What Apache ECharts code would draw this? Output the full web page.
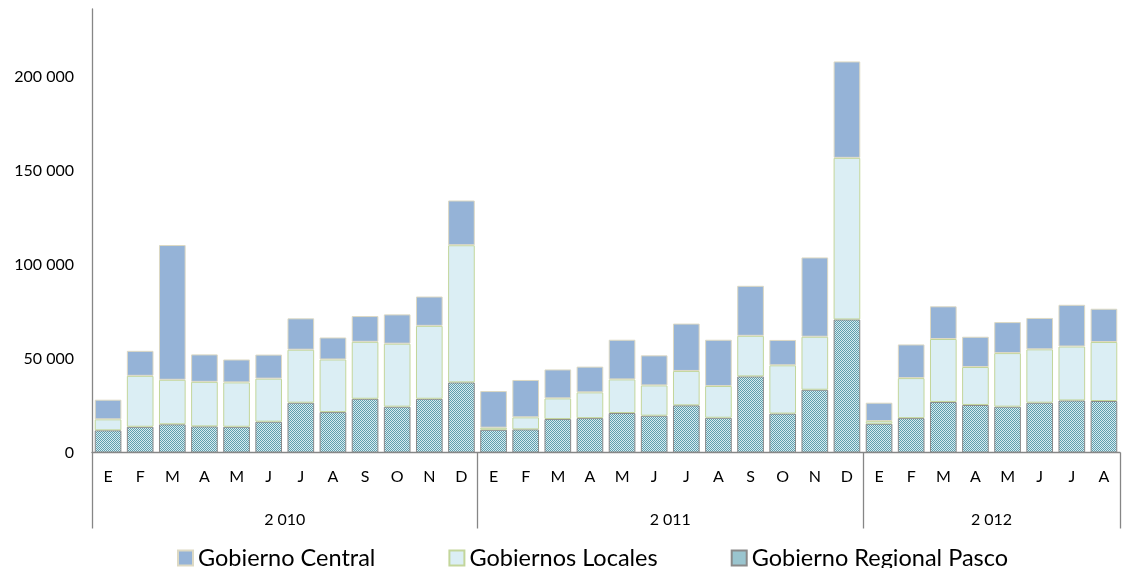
<!DOCTYPE html>
<html>
<head>
<meta charset="utf-8">
<script src="https://cdn.jsdelivr.net/npm/echarts@6/dist/echarts.min.js"></script>
<style>
html,body{margin:0;padding:0;background:#fff;}
#chart{width:1124px;height:568px;}
</style>
</head>
<body>
<div id="chart"></div>
<script>
const months = ['E','F','M','A','M','J','J','A','S','O','N','D','E','F','M','A','M','J','J','A','S','O','N','D','E','F','M','A','M','J','J','A'];
const yearLabels = ['2 010','2 011','2 012'];
const yearCenters = [6, 18, 28];
const yearBounds = [0, 12, 24, 32];
const yTicks = [0, 50000, 100000, 150000, 200000];

const regional = [11800,13700,15000,13900,13700,16400,26500,21500,28600,24400,28600,37300,
                  12100,12300,17800,18300,21000,19600,25100,18500,40500,20700,33400,70800,
                  15300,18300,26900,25300,24400,26500,27700,27400];
const locales  = [5850,27100,23700,23700,23600,22900,28200,28000,30300,33500,38800,73000,
                  1100,6400,11000,13700,17900,16100,18300,16900,21600,25700,28200,86000,
                  1400,21300,33500,20200,28500,28400,28700,31400];
const central  = [10450,13300,71700,14600,12200,12800,16700,11700,13700,15600,15600,23800,
                  19500,19900,15400,13700,21100,16000,25200,24600,26600,13500,42200,51300,
                  9800,17900,17400,16100,16500,16700,22200,17700];

function makePattern(){
  const c = document.createElement('canvas');
  c.width = 2; c.height = 2;
  const g = c.getContext('2d');
  g.fillStyle = '#d6ebf0'; g.fillRect(0,0,2,2);
  g.fillStyle = '#5f9fae'; g.fillRect(0,0,1,1); g.fillRect(1,1,1,1);
  return c;
}
const pat = makePattern();

const FONT = 'Lato';
const chart = echarts.init(document.getElementById('chart'), null, {renderer:'canvas'});
chart.setOption({
  animation: false,
  textStyle: {fontFamily: FONT},
  grid: {left: 92, right: 4, top: 9, bottom: 115.5, containLabel: false},
  legend: {
    left: 172, top: 541, itemGap: 73, itemWidth: 15, itemHeight: 15,
    icon: 'rect',
    textStyle: {fontFamily: FONT, fontSize: 23.5, color: '#000'},
    data: ['Gobierno Central','Gobiernos Locales','Gobierno Regional Pasco']
  },
  xAxis: [{
    type: 'category', data: months, position: 'bottom',
    axisLine: {lineStyle: {color: '#868686', width: 1.3}},
    axisTick: {show: false},
    axisLabel: {color: '#000', fontSize: 16, margin: 16, interval: 0, fontFamily: FONT}
  },{
    type: 'value', min: 0, max: 32, position: 'bottom',
    axisLine: {show: false},
    splitLine: {show: false},
    axisTick: {show: true, customValues: yearBounds, length: 76, lineStyle: {color: '#868686', width: 1.3}},
    axisLabel: {customValues: yearCenters, color: '#000', fontSize: 16, margin: 59, fontFamily: FONT,
      formatter: v => yearLabels[yearCenters.indexOf(v)]}
  }],
  yAxis: {
    type: 'value', min: 0, max: 236000, interval: 50000,
    axisLine: {show: true, lineStyle: {color: '#868686', width: 1.3}},
    axisTick: {show: false},
    splitLine: {show: false},
    axisLabel: {showMaxLabel: false, color: '#000', fontSize: 16, margin: 18, fontFamily: FONT,
      formatter: v => yTicks.indexOf(v) >= 0 ? (v === 0 ? '0' : (v/1000) + ' 000') : ''}
  },
  series: [
    {name: 'Gobierno Regional Pasco', type: 'bar', stack: 's', data: regional, xAxisIndex: 0,
     barCategoryGap: '17%',
     itemStyle: {color: {image: pat, repeat: 'repeat'}, borderColor: '#8a8a8a', borderWidth: 1}},
    {name: 'Gobiernos Locales', type: 'bar', stack: 's', data: locales, xAxisIndex: 0,
     itemStyle: {color: '#dbeef4', borderColor: '#c3d69b', borderWidth: 1}},
    {name: 'Gobierno Central', type: 'bar', stack: 's', data: central, xAxisIndex: 0,
     itemStyle: {color: '#95b3d7', borderColor: '#ddd9c3', borderWidth: 1}}
  ]
});
</script>
</body>
</html>
